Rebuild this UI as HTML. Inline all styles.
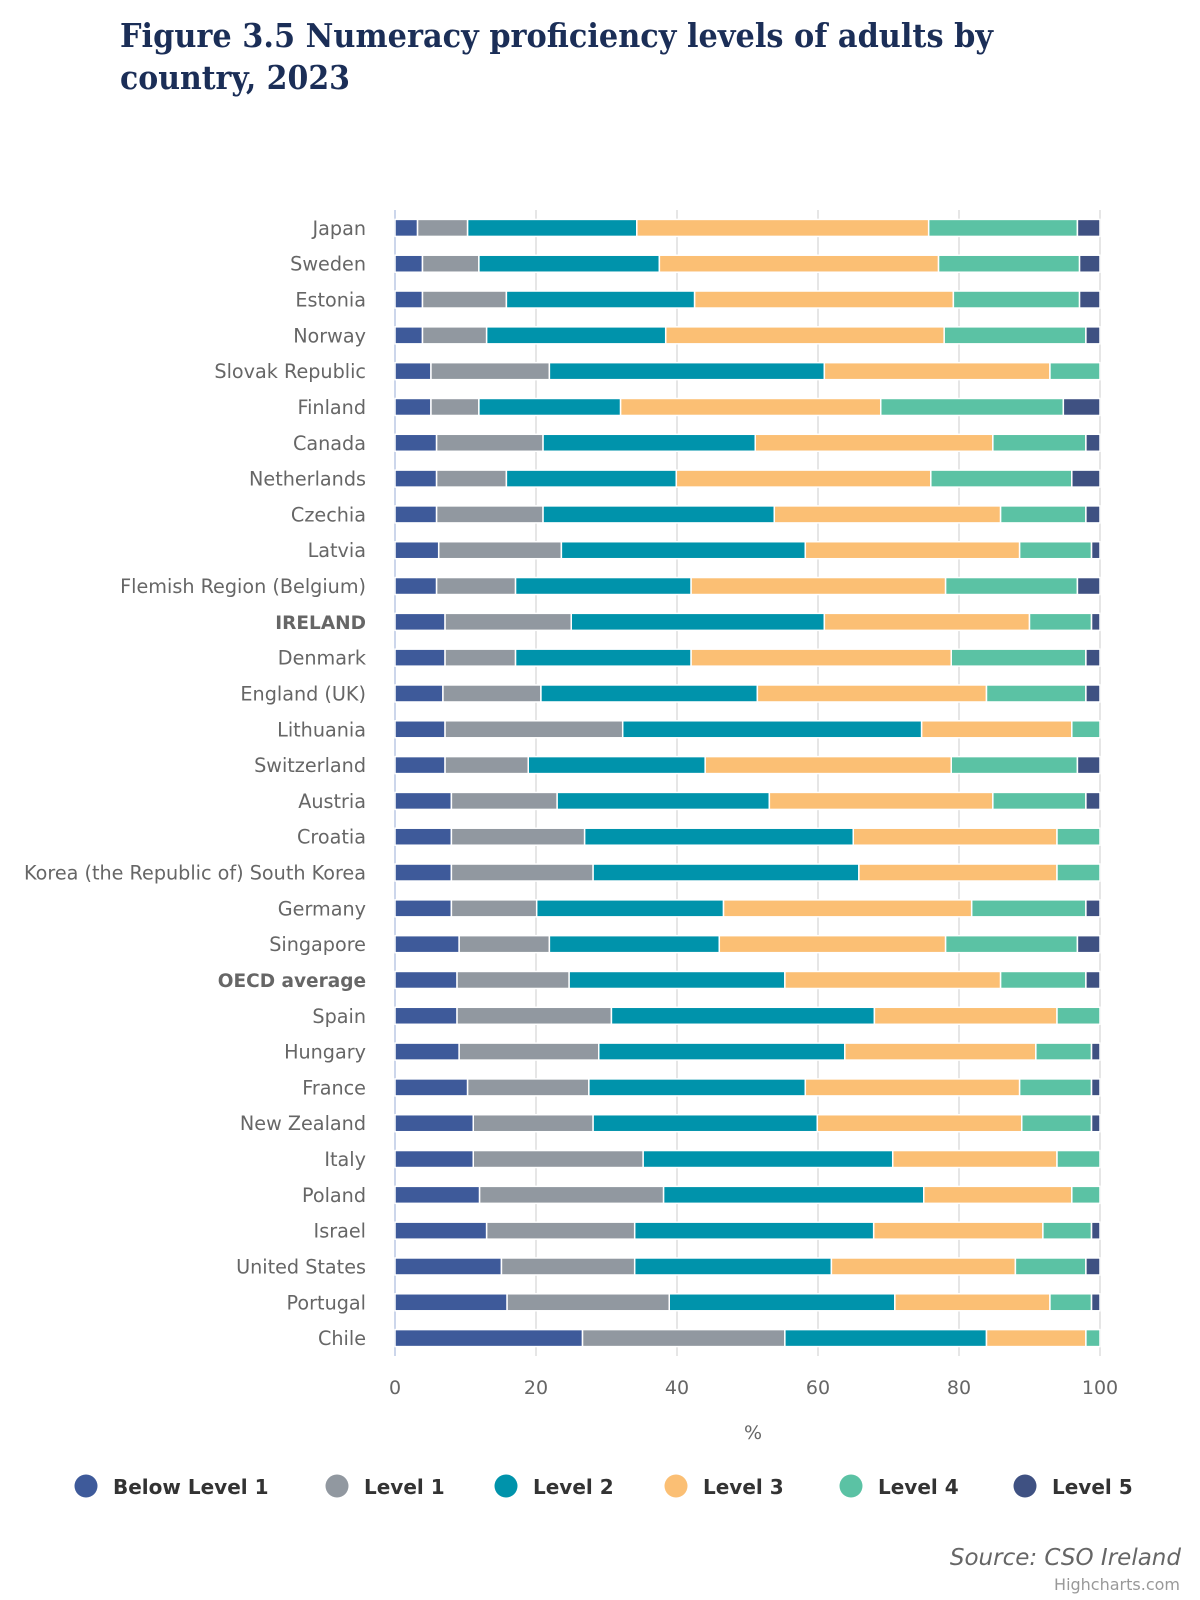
<!DOCTYPE html>
<html><head><meta charset="utf-8"><style>
html,body{margin:0;padding:0;background:#fff;}
svg{display:block;}
</style></head><body>
<svg id="chart" xmlns="http://www.w3.org/2000/svg" width="1200" height="1600" viewBox="0 0 1200 1600">
<rect width="1200" height="1600" fill="#fff"/>
<text x="120" y="47" font-family="'DejaVu Serif', serif" font-weight="bold" font-size="33" fill="#1b2e57" textLength="873" lengthAdjust="spacingAndGlyphs">Figure 3.5 Numeracy proficiency levels of adults by</text>
<text x="120" y="89" font-family="'DejaVu Serif', serif" font-weight="bold" font-size="33" fill="#1b2e57" textLength="230" lengthAdjust="spacingAndGlyphs">country, 2023</text>
<g id="grid"></g><g id="bars"></g><g id="labels"></g><g id="legend"></g>
<text x="753" y="1439" text-anchor="middle" font-family="'DejaVu Sans', sans-serif" font-size="19" fill="#666">%</text>
<text x="1181" y="1565" text-anchor="end" font-family="'DejaVu Sans', sans-serif" font-style="italic" font-size="23" fill="#666">Source: CSO Ireland</text>
<text x="1180" y="1590" text-anchor="end" font-family="'DejaVu Sans', sans-serif" font-size="16" fill="#999">Highcharts.com</text>
</svg>
<script>
const categories=["Japan","Sweden","Estonia","Norway","Slovak Republic","Finland","Canada","Netherlands","Czechia","Latvia","Flemish Region (Belgium)","IRELAND","Denmark","England (UK)","Lithuania","Switzerland","Austria","Croatia","Korea (the Republic of) South Korea","Germany","Singapore","OECD average","Spain","Hungary","France","New Zealand","Italy","Poland","Israel","United States","Portugal","Chile"];
const seriesNames=["Below Level 1","Level 1","Level 2","Level 3","Level 4","Level 5"];
const belowLevel1=[3.2,3.9,3.9,3.9,5.1,5.1,5.9,5.9,5.9,6.2,5.9,7.1,7.1,6.8,7.1,7.1,8.0,8.0,8.0,8.0,9.1,8.8,8.8,9.1,10.3,11.1,11.1,12.0,13.0,15.1,15.9,26.6];
const level1=[7.1,8.0,11.9,9.1,16.8,6.8,15.1,9.9,15.1,17.4,11.2,17.9,10.0,13.9,25.2,11.8,15.0,18.9,20.1,12.1,12.8,15.9,21.9,19.8,17.2,17.0,24.1,26.1,21.0,18.9,23.0,28.7];
const level2=[24.0,25.6,26.7,25.4,39.0,20.1,30.1,24.1,32.8,34.6,24.9,35.9,24.9,30.7,42.4,25.1,30.1,38.1,37.7,26.5,24.1,30.6,37.3,34.9,30.7,31.8,35.4,36.9,33.9,27.9,32.0,28.6];
const level3=[41.4,39.6,36.7,39.5,32.0,36.9,33.7,36.1,32.1,30.4,36.1,29.1,36.9,32.5,21.3,34.9,31.7,28.9,28.1,35.2,32.1,30.6,25.9,27.1,30.4,29.0,23.3,21.0,24.0,26.1,22.0,14.1];
const level4=[21.1,20.0,17.9,20.1,7.1,25.9,13.2,20.0,12.1,10.2,18.7,8.8,19.1,14.1,4.0,17.9,13.2,6.1,6.1,16.2,18.7,12.1,6.1,7.9,10.2,9.9,6.1,4.0,6.9,10.0,5.9,2.0];
const level5=[3.2,2.9,2.9,2.0,0,5.2,2.0,4.0,2.0,1.2,3.2,1.2,2.0,2.0,0,3.2,2.0,0,0,2.0,3.2,2.0,0,1.2,1.2,1.2,0,0,1.2,2.0,1.2,0];
const xTicks=[0,20,40,60,80,100];
const boldCats=["IRELAND","OECD average"];
const colors=["#3e5a9a","#9198a0","#0093ab","#fbbf74","#5bc2a4","#3f5182"];
const series=[belowLevel1,level1,level2,level3,level4,level5];
const NS="http://www.w3.org/2000/svg";
const X0=395,X1=1100,Y0=210,Y1=1356;
const xs=v=>X0+(v/100)*(X1-X0);
const step=(Y1-Y0)/categories.length;
const yc=i=>Y0+(i+0.5)*step;
function mk(tag,attrs,parent){const e=document.createElementNS(NS,tag);for(const k in attrs)e.setAttribute(k,attrs[k]);parent.appendChild(e);return e;}
const grid=document.getElementById('grid'),bars=document.getElementById('bars'),labels=document.getElementById('labels'),legend=document.getElementById('legend');
xTicks.forEach(t=>{
  if(t>0){const l=mk('line',{x1:xs(t),x2:xs(t),y1:Y0,y2:Y1,stroke:'#e6e6e6','stroke-width':2},grid);
  
  }
  const tx=mk('text',{x:xs(t),y:1394,'text-anchor':'middle','font-family':"'DejaVu Sans', sans-serif",'font-size':19,fill:'#666'},labels);
  tx.textContent=t;
  
  
});
const ax=mk('line',{x1:X0,x2:X0,y1:Y0,y2:Y1,stroke:'#ccd6eb','stroke-width':2},grid);


categories.forEach((c,i)=>{
  let acc=0;
  series.forEach((s,k)=>{
    const v=s[i];
    if(v>0){
      const r=mk('rect',{x:xs(acc),y:yc(i)-8.5,width:xs(acc+v)-xs(acc),height:17,fill:colors[k],stroke:'#fff','stroke-width':1.5},bars);
      
      
    }
    acc+=v;
  });
  const bold=boldCats.includes(c);
  const t=mk('text',{x:366,y:yc(i)+7,'text-anchor':'end','font-family':"'DejaVu Sans', sans-serif",'font-size':bold?18.5:19.2,'font-weight':bold?'bold':'normal',fill:'#666'},labels);
  t.textContent=c;
  
  
});
const legX=[86,337,506,676,851,1025];
seriesNames.forEach((n,k)=>{
  const g=mk('g',{},legend);
  
  
  mk('circle',{cx:legX[k],cy:1486,r:11.5,fill:colors[k]},g);
  const t=mk('text',{x:legX[k]+27,y:1494,'font-family':"'DejaVu Sans', sans-serif",'font-size':20,'font-weight':'bold',fill:'#333'},g);
  t.textContent=n;
});
</script>
</body></html>
